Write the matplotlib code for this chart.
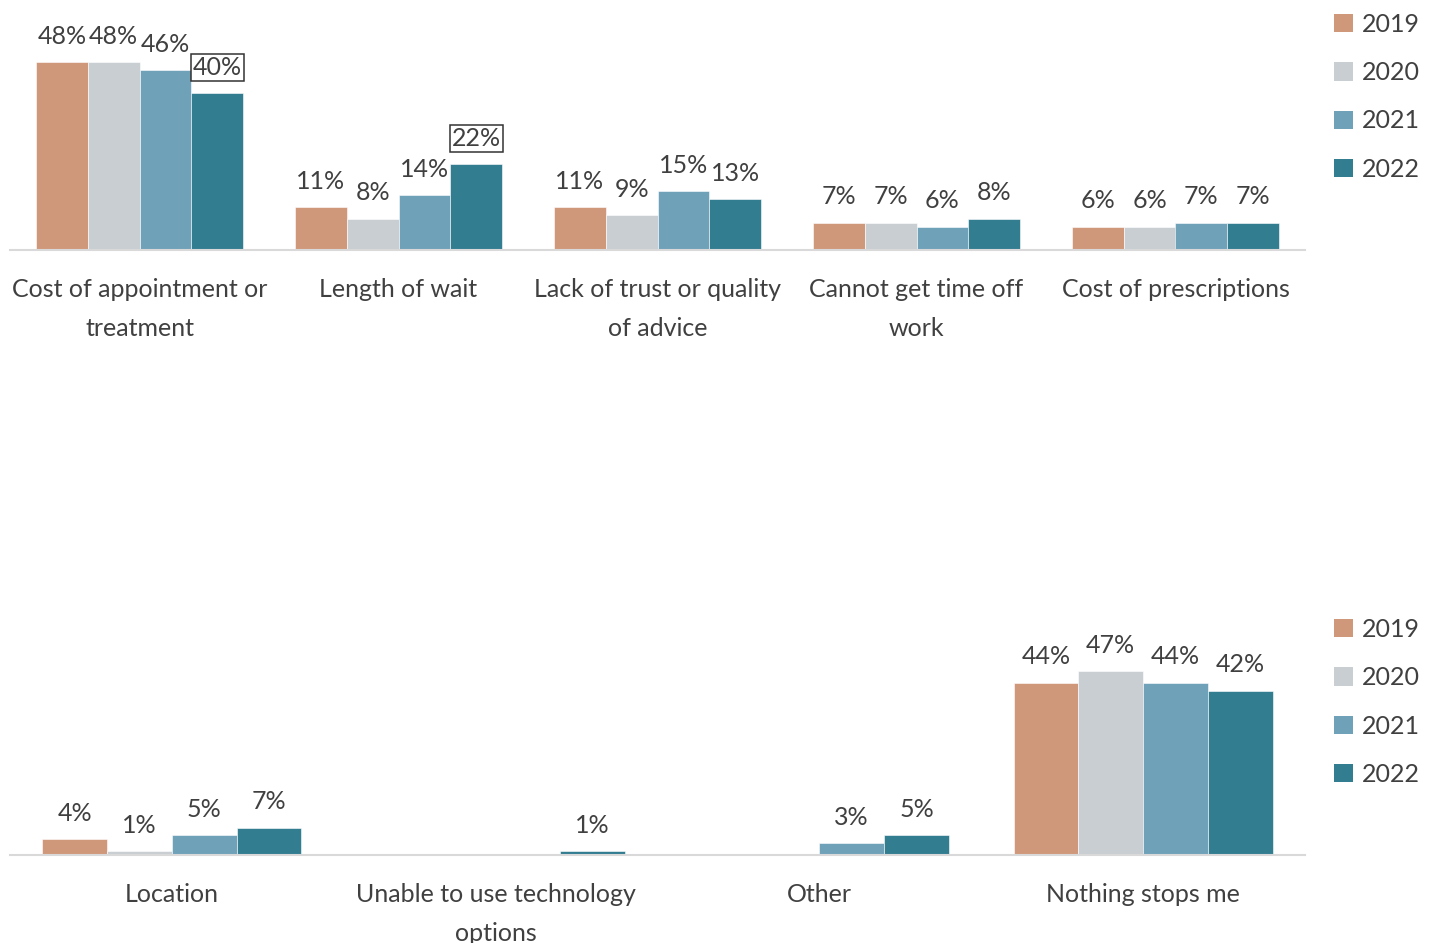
import numpy as np
import matplotlib
matplotlib.use("Agg")
import matplotlib.pyplot as plt
from matplotlib.patches import Patch

plt.rcParams['font.family'] = ['Lato', 'DejaVu Sans']

years = ["2019", "2020", "2021", "2022"]
colors = ["#D0987A", "#C9CED2", "#6FA1B9", "#337D91"]

top_categories = ["Cost of appointment or\ntreatment", "Length of wait",
                  "Lack of trust or quality\nof advice", "Cannot get time off\nwork",
                  "Cost of prescriptions"]
top_2019 = [48, 11, 11, 7, 6]
top_2020 = [48, 8, 9, 7, 6]
top_2021 = [46, 14, 15, 6, 7]
top_2022 = [40, 22, 13, 8, 7]

bottom_categories = ["Location", "Unable to use technology\noptions", "Other", "Nothing stops me"]
bottom_2019 = [4, None, None, 44]
bottom_2020 = [1, None, None, 47]
bottom_2021 = [5, None, 3, 44]
bottom_2022 = [7, 1, 5, 42]

# labels drawn with a box (series index, category index)
top_boxed = [(3, 0), (3, 1)]

W, H = 1429, 943
fig = plt.figure(figsize=(W / 100, H / 100), dpi=100)

TXT = "#404040"
FS = 18


def draw(ax, cats, series, boxed):
    n = len(cats)
    x = np.arange(n)
    bw = 0.8 / 4
    for si, vals in enumerate(series):
        for ci, v in enumerate(vals):
            if v is None:
                continue
            xc = x[ci] - 0.4 + bw * (si + 0.5)
            ax.bar(xc, v, width=bw, color=colors[si], edgecolor="white", linewidth=0.4)
            kw = {}
            if (si, ci) in boxed:
                kw["bbox"] = dict(boxstyle="square,pad=0.08", fc="white", ec="#333333", lw=1.1)
            ax.annotate(f"{v}%", (xc, v), xytext=(0, 18.5), textcoords="offset points",
                        ha="center", va="center", fontsize=FS, color=TXT, **kw)
    ax.set_xlim(-0.5, n - 0.5)
    ax.set_ylim(0, 60)
    ax.set_xticks(x)
    ax.set_xticklabels(cats, fontsize=FS, color=TXT, linespacing=1.85)
    ax.tick_params(axis="x", length=0, pad=20)
    ax.set_yticks([])
    for s in ["top", "left", "right"]:
        ax.spines[s].set_visible(False)
    ax.spines["bottom"].set_color("#d9d9d9")
    ax.spines["bottom"].set_linewidth(1.5)


left = 10 / W
width = (1305 - 10) / W
height = 235 / H
ax1 = fig.add_axes([left, 1 - 250 / H, width, height])
draw(ax1, top_categories, [top_2019, top_2020, top_2021, top_2022], top_boxed)
ax2 = fig.add_axes([left, 1 - 855 / H, width, height])
draw(ax2, bottom_categories, [bottom_2019, bottom_2020, bottom_2021, bottom_2022], [])

handles = [Patch(facecolor=c, edgecolor="none") for c in colors]
for ytop in [13, 618]:
    leg = fig.legend(handles, years, loc="upper left",
                     bbox_to_anchor=(1334 / W, 1 - ytop / H), frameon=False,
                     fontsize=FS, handlelength=0.75, handleheight=0.75,
                     handletextpad=0.35, labelspacing=1.01, borderpad=0, borderaxespad=0)
    for t in leg.get_texts():
        t.set_color(TXT)

fig.savefig("out.png", dpi=100, facecolor="white")
